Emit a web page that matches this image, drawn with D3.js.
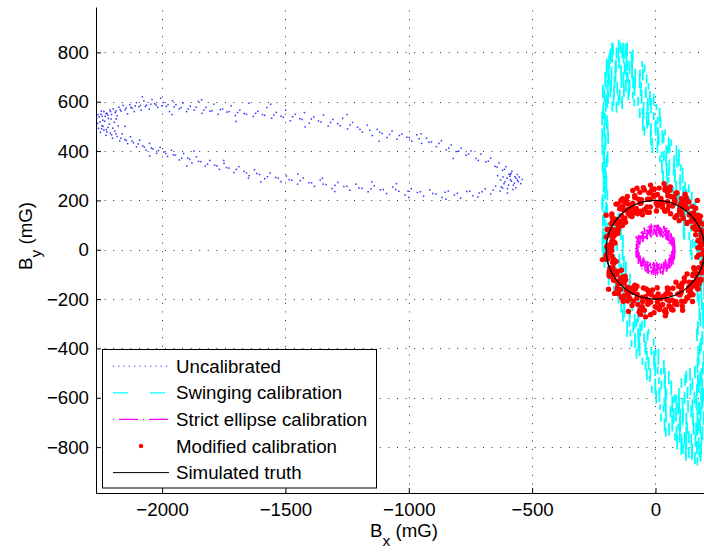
<!DOCTYPE html>
<html>
<head>
<meta charset="utf-8">
<script src="https://cdn.jsdelivr.net/npm/d3@7"></script>
<style>
  body { margin: 0; background: #fff; }
  text { font-family: "Liberation Sans", Arial, Helvetica, sans-serif; }
</style>
</head>
<body>
<svg id="chart" width="704" height="553"></svg>
<script>
// ---- axis ticks ----
const xTicks = [-2000, -1500, -1000, -500, 0];
const yTicks = [-800, -600, -400, -200, 0, 200, 400, 600, 800];
const xDomain = [-2268, 221];
const yDomain = [-986, 984];

// ---- legend entries ----
const seriesNames = ["Uncalibrated", "Swinging calibration", "Strict ellipse calibration",
                     "Modified calibration", "Simulated truth"];

// ---- uncalibrated magnetometer samples (mG) ----
const uncalibrated = [
  [-2262,512],[-2255,538],[-2248,549],[-2240,525],[-2236,560],[-2230,541],[-2224,553],[-2218,532],[-2212,566],[-2205,548],
  [-2198,571],[-2190,556],[-2182,543],[-2175,578],[-2166,562],[-2158,585],[-2150,567],[-2140,551],[-2131,588],[-2122,574],
  [-2113,560],[-2104,596],[-2094,579],[-2085,566],[-2074,603],[-2063,586],[-2052,570],[-2041,609],[-2030,592],[-2018,577],
  [-2006,614],[-1995,597],[-1983,581],[-1970,560],[-1958,604],[-1944,588],[-1930,571],[-1915,595],[-1901,560],[-1886,582],
  [-1870,566],[-1853,601],[-1838,553],[-1822,577],[-1806,562],[-1790,590],[-1773,549],[-1755,571],[-1738,558],[-1720,583],
  [-1703,544],[-1685,566],[-1667,552],[-1648,594],[-1630,540],[-1612,561],[-1593,548],[-1575,576],[-1556,533],[-1537,557],
  [-1518,541],[-1499,566],[-1480,523],[-1461,549],[-1442,531],[-1423,556],[-1404,513],[-1385,538],[-1366,522],[-1346,546],
  [-1327,501],[-1308,528],[-1288,511],[-1268,532],[-1248,490],[-1228,516],[-1208,497],[-1188,477],[-1168,505],[-1148,463],
  [-1128,488],[-1108,472],[-1088,455],[-1068,481],[-1048,448],[-1028,469],[-1008,456],[-988,440],[-968,466],[-948,431],
  [-928,452],[-908,437],[-888,418],[-868,442],[-848,405],[-828,425],[-808,398],[-788,412],[-768,383],[-748,401],
  [-728,370],[-708,388],[-688,356],[-668,371],[-650,338],[-634,352],[-620,322],[-606,337],[-594,306],[-582,318],
  [-570,296],[-560,305],
  [-2258,492],[-2250,476],[-2244,503],[-2236,485],[-2228,464],[-2219,496],[-2210,473],[-2201,452],[-2192,481],[-2182,459],
  [-2172,441],[-2162,470],[-2151,447],[-2140,430],[-2128,458],[-2116,434],[-2104,417],[-2091,444],[-2078,421],[-2065,404],
  [-2051,431],[-2037,409],[-2022,391],[-2008,415],[-1993,396],[-1978,378],[-1962,403],[-1946,383],[-1930,364],[-1913,390],
  [-1896,371],[-1879,352],[-1861,377],[-1843,357],[-1825,339],[-1806,362],[-1787,343],[-1768,326],[-1749,350],[-1729,331],
  [-1709,313],[-1689,337],[-1668,318],[-1647,300],[-1626,324],[-1605,305],[-1584,288],[-1562,311],[-1540,293],[-1518,276],
  [-1496,299],[-1474,282],[-1451,266],[-1428,291],[-1405,272],[-1382,257],[-1359,283],[-1335,264],[-1311,248],[-1287,273],
  [-1263,256],[-1239,241],[-1215,266],[-1190,249],[-1165,235],[-1140,259],[-1115,243],[-1090,228],[-1065,254],[-1040,237],
  [-1015,222],[-990,248],[-965,232],[-940,217],[-915,243],[-890,226],[-865,212],[-840,238],[-815,222],[-790,210],
  [-765,236],[-740,219],[-715,230],[-690,247],[-668,226],[-648,258],[-630,238],[-614,268],[-600,248],[-588,283],
  [-576,262],[-566,290],[-556,276],
  [-2266,530],[-2260,548],[-2252,518],[-2246,562],[-2240,500],[-2233,521],[-2226,487],[-2220,546],[-2214,509],[-2207,530],
  [-2200,493],[-2194,517],[-2186,530],[-2178,502],
  [-640,300],[-628,283],[-618,295],[-610,276],[-602,290],[-596,262],[-590,298],[-584,278],[-578,244],[-572,270],
  [-566,251],[-560,282],[-552,295],[-546,268],[-540,285],[-600,230],[-620,250],[-586,310],
  [-2243,541],[-2227,552],[-2209,560],[-2187,563],[-2170,568],[-2146,574],[-2127,577],[-2109,583],[-2088,585],[-2068,581],
  [-2046,590],[-2024,586],[-2001,583],[-1976,588],[-1951,579],[-1923,576],[-1894,571],[-1862,578],[-1830,566],[-1798,563],
  [-1764,568],[-1729,560],[-1694,556],[-1658,549],[-1621,553],[-1584,545],[-1547,546],[-1509,537],[-1471,539],[-1433,528],
  [-1395,530],[-1356,518],[-1317,516],[-1278,503],[-1238,506],[-1198,488],[-1158,484],[-1118,477],[-1078,467],[-1038,463],
  [-998,455],[-958,450],[-918,436],[-878,431],[-838,412],[-798,400],[-758,388],[-718,362],[-678,359],[-642,335],
  [-612,326],[-588,305],
  [-2245,490],[-2224,478],[-2205,466],[-2187,470],[-2167,452],[-2145,443],[-2122,441],[-2097,429],[-2072,416],[-2044,412],
  [-2015,402],[-1985,390],[-1954,385],[-1921,371],[-1888,366],[-1852,358],[-1816,347],[-1778,340],[-1739,333],[-1699,326],
  [-1658,311],[-1616,309],[-1573,296],[-1529,290],[-1485,284],[-1440,280],[-1394,271],[-1347,266],[-1299,261],[-1251,257],
  [-1202,250],[-1153,247],[-1103,244],[-1053,244],[-1003,238],[-953,235],[-903,228],[-853,233],[-803,229],[-753,237],
  [-703,235],[-658,242],[-625,255],
  [-2080,620],[-1960,548],[-1840,608],[-1700,520],[-1560,590],[-1420,498],[-1250,548],[-1120,440],[-950,470],[-820,370],
  [-2150,500],[-2050,380],[-1900,340],[-1750,362],[-1600,275],[-1450,307],[-1300,236],[-1150,275],[-1000,212],[-850,205],
  [-720,214],[-1350,290],[-1050,268],[-1650,290],[-1870,400]
];

// ---- swinging calibration: dash segments [x, yTop, yBottom] (mG) ----
const swingLeftSide = [
  [-205,20,-30],[-198,55,5],[-212,90,38],[-202,120,60],[-209,160,110],[-196,185,140],[-214,225,170],[-204,260,205],
  [-199,300,240],[-211,330,285],[-206,372,315],[-194,400,352],[-215,440,385],[-203,470,420],[-208,512,455],[-197,545,490],
  [-212,580,530],[-201,615,560],[-207,650,600],[-193,690,632],[-204,720,665],[-198,760,700],[-188,790,735],[-210,395,345],
  [-200,195,150],[-216,560,505],[-192,480,430],[-206,300,250],[-213,140,95],[-195,620,575],[-203,340,300],[-209,70,25],
  [-150,150,100],[-140,90,40],[-165,130,85],[-132,60,10],
  [-200,40,-5],[-214,75,30],[-193,110,70],[-207,145,95],[-202,178,130],[-216,210,160],[-195,245,200],[-210,282,232],
  [-201,318,268],[-214,355,310],[-197,385,335],[-208,425,370],[-203,455,405],[-216,492,440],[-194,520,470],[-205,555,505],
  [-211,595,545],[-199,632,585],[-213,668,615],[-202,700,650],[-191,740,690],[-197,775,720],[-183,815,765],[-176,840,795]
];
const swingUpperBand = [
  [-149,852,808],[-120,832,804],[-122,836,776],[-92,812,776],[-129,808,756],[-92,782,758],[-95,791,725],[-114,766,726],
  [-44,750,718],[-95,750,694],[-51,734,686],[-112,713,683],[-64,717,655],[-83,693,655],[-28,675,649],[-60,677,623],
  [-39,660,616],[-92,640,612],[-22,644,584],[-70,620,584],[-31,616,564],[4,590,566],[-48,599,533],[-64,574,534],
  [-7,558,526],[-28,558,502],[20,542,494],[-34,521,491],[1,525,463],[-45,501,463],[-20,483,457],[28,485,431],
  [13,468,424],[64,448,420],[-13,452,392],[57,428,392],[44,424,372],[25,398,374],[95,407,341],[43,382,342],
  [88,366,334],[26,366,310],[74,350,302],[54,329,299],[110,333,271],[78,309,271],[101,291,265],[48,293,239],
  [120,276,232],[72,256,228],[112,260,200],[147,236,200],[96,232,180],[80,206,182],[137,215,149],[118,190,150],
  [164,174,142],[109,174,118],[141,158,110],[94,137,107],[116,141,79],[163,117,79],[146,99,73],[196,101,47],
  [117,84,40],[186,64,36],[171,68,8],[151,44,8],[200,40,-12],[168,14,-10],[190,23,-43],[147,-2,-42],[194,-18,-50],
  [-131,840,808],[-115,840,784],[-135,824,776],[-97,803,773],[-117,807,745],[-95,783,745],[-54,765,739],[-105,767,713],
  [-120,750,706],[-63,730,702],[-82,734,674],[-36,710,674],[-91,706,654],[-59,680,656],[-107,689,623],[-85,664,624],
  [-40,648,616],[-56,648,592],[-7,632,584],[-86,611,581],[-18,615,553],[-32,591,553],[-53,573,547],[17,575,521],
  [-35,558,514],[9,538,510],[-51,542,482],[0,518,482],[-18,514,462],[39,488,464],[10,497,431],[33,472,432],
  [-18,456,424],[54,456,400],[8,440,392],[49,419,389],[85,423,361],[34,399,361],[18,381,355],[76,383,329],
  [56,366,322],[102,346,318],[46,350,290],[79,326,290],[31,322,270],[53,296,272],[100,305,239],[84,280,240],
  [135,264,232],[56,264,208],[125,248,200],[111,227,197],[91,231,169],[161,207,169],[109,189,163],[154,191,137],
  [92,174,130],[141,154,126],[121,158,98],[177,134,98],[145,130,78],[167,104,80],[114,113,47],[185,88,48],
  [137,72,40],[177,72,16],[192,56,8],[160,35,5],[143,39,-23],[180,15,-23]
];
const swingUpperTip = [
  [-185,800,752],[-172,835,790],[-160,770,722],[-178,742,690],[-150,812,768],[-166,705,655],[-140,748,700],[-183,670,618],
  [-155,680,632],[-130,720,668],[-170,630,585],[-145,650,600],[-120,690,640],[-188,715,668],[-158,600,556],[-135,622,570],
  [-110,650,605],[-163,760,715],
  [-190,760,712],[-176,805,758],[-162,728,680],[-148,782,735],[-138,705,655],[-125,760,712],[-180,690,640],[-168,660,612],
  [-150,630,585],[-128,670,620],[-115,720,675],[-105,690,645],[-142,840,800],[-158,820,775],[-192,640,592],[-175,600,560]
];
const swingRightSide = [
  [192,120,70],[183,60,10],[198,20,-35],[188,-20,-75],[179,-60,-110],[195,-95,-150],[185,-140,-195],[176,-180,-230],
  [193,-215,-270],[182,-255,-310],[172,-290,-345],[190,-330,-385],[180,-375,-425],[196,-410,-465],[170,-440,-500],[186,-480,-540],
  [176,-525,-580],[193,-560,-615],[167,-600,-650],[183,-635,-690],[175,-680,-735],[190,-715,-770],[162,-745,-800],[178,-790,-840],
  [195,-250,-300],[189,-520,-570],[181,-690,-745],[197,-150,-200],[173,-390,-440],[187,-600,-650],
  [186,95,45],[195,40,-10],[178,0,-45],[191,-45,-95],[184,-110,-160],[170,-160,-210],[188,-195,-245],[178,-235,-285],
  [194,-270,-320],[168,-320,-370],[185,-355,-410],[175,-420,-470],[192,-455,-505],[181,-495,-555],[168,-545,-595],[190,-585,-640],
  [176,-615,-665],[195,-655,-710],[170,-700,-755],[186,-740,-790],[168,-775,-830],[183,-815,-860]
];
const swingLowerBand = [
  [123,-818,-842],[148,-785,-851],[112,-786,-826],[125,-778,-810],[88,-754,-810],[105,-746,-794],[79,-743,-773],[125,-715,-777],
  [85,-715,-753],[98,-709,-735],[37,-683,-737],[99,-676,-720],[43,-672,-700],[74,-644,-704],[101,-644,-680],[42,-624,-676],
  [19,-626,-650],[68,-593,-659],[41,-594,-634],[79,-586,-618],[16,-562,-618],[40,-554,-602],[-15,-551,-581],[-1,-523,-585],
  [37,-523,-561],[14,-517,-543],[54,-491,-545],[-35,-484,-528],[23,-480,-508],[-1,-452,-512],[-40,-452,-488],[-4,-432,-484],
  [-29,-434,-458],[12,-401,-467],[-77,-402,-442],[-17,-394,-426],[-40,-370,-426],[-69,-362,-410],[-7,-359,-389],[-67,-331,-393],
  [-32,-331,-369],[-102,-325,-351],[-62,-299,-353],[-90,-292,-336],[-44,-288,-316],[-84,-260,-320],[-71,-260,-296],[-132,-240,-292],
  [-70,-242,-266],[-126,-209,-275],[-94,-210,-250],[-67,-202,-234],[-126,-178,-234],[-150,-170,-218],[-101,-167,-197],[-130,-139,-201],
  [-92,-139,-177],[-157,-133,-159],[-133,-107,-161],[-190,-100,-144],[-176,-96,-124],[-139,-68,-128],[-162,-68,-104],[-120,-48,-100],
  [-207,-50,-74],[-146,-17,-83],[-167,-18,-58],[-195,-10,-42],[-133,14,-42],[-192,22,-26],[-155,25,-5],[-215,53,-9],[-182,53,15],
  [123,-793,-855],[105,-793,-831],[123,-787,-813],[106,-761,-815],[122,-754,-798],[87,-750,-778],[98,-722,-782],[42,-722,-758],
  [55,-702,-754],[93,-704,-728],[68,-671,-737],[110,-672,-712],[22,-664,-696],[83,-640,-696],[61,-632,-680],[33,-629,-659],
  [96,-601,-663],[36,-601,-639],[73,-595,-621],[3,-569,-623],[44,-562,-606],[16,-558,-586],[64,-530,-590],[24,-530,-566],
  [38,-510,-562],[-23,-512,-536],[38,-479,-545],[-21,-480,-520],[9,-472,-504],[34,-448,-504],[-28,-440,-488],[-53,-437,-467],
  [-6,-409,-471],[-35,-409,-447],[1,-403,-429],[-64,-377,-431],[-41,-370,-414],[-97,-366,-394],[-83,-338,-398],[-46,-338,-374],
  [-70,-318,-370],[-28,-320,-344],[-115,-287,-353],[-55,-288,-328],[-77,-280,-312],[-105,-256,-312],[-44,-248,-296],[-104,-245,-275],
  [-69,-217,-279],[-139,-217,-255],[-99,-211,-237],[-127,-185,-239],[-80,-178,-222],[-120,-174,-202],[-106,-146,-206],[-168,-146,-182],
  [-105,-126,-178],[-162,-128,-152],[-130,-95,-161],[-104,-96,-136],[-163,-88,-120],[-187,-64,-120],[-138,-56,-104],[-166,-53,-83],
  [-128,-25,-87],[-192,-25,-63],[-167,-19,-45],[-212,7,-47],[-208,14,-30],[-169,18,-10]
];
const swingLowerTip = [
  [150,-520,-570],[130,-555,-605],[165,-590,-640],[110,-600,-650],[145,-630,-680],[125,-660,-710],[170,-650,-700],[100,-690,-740],
  [155,-700,-750],[135,-735,-785],[175,-760,-810],[148,-790,-845],[160,-820,-868],[118,-740,-790],[185,-560,-610],[95,-560,-610],
  [140,-480,-530],[120,-505,-550],[160,-470,-520],[105,-520,-560],
  [142,-540,-590],[158,-575,-625],[118,-575,-625],[178,-620,-670],[132,-610,-660],[152,-660,-710],[112,-645,-695],[165,-700,-750],
  [128,-700,-748],[145,-745,-795],[185,-780,-830],[170,-840,-875],[135,-800,-845],[92,-620,-668],[125,-490,-540],[172,-505,-555],
  [85,-590,-640],[150,-605,-655]
];

// ---- strict ellipse calibration traces (mG) ----
const strictLoopA = [
  [76,22],[80,-15],[68,41],[72,-4],[74,51],[78,15],[61,68],[65,19],[49,67],[53,25],
  [47,89],[51,46],[40,89],[44,50],[19,90],[23,55],[11,104],[15,60],[3,99],[7,52],
  [-18,106],[-14,55],[-26,98],[-22,58],[-37,85],[-33,42],[-54,75],[-50,48],[-53,79],[-49,29],
  [-69,60],[-65,22],[-78,55],[-74,8],[-75,30],[-71,-11],[-73,14],[-69,-26],[-81,7],[-77,-33],
  [-72,-10],[-68,-54],[-62,-25],[-58,-62],[-62,-29],[-58,-69],[-48,-32],[-44,-76],[-37,-46],[-33,-83],
  [-32,-46],[-28,-91],[-9,-56],[-5,-91],[-4,-52],[0,-106],[5,-50],[9,-95],[25,-61],[29,-102],
  [40,-39],[44,-88],[41,-43],[45,-85],[55,-36],[59,-76],[68,-14],[72,-60],[65,-6],[69,-49],
  [74,7],[78,-36],[76,20]
];
const strictLoopB = [
  [73,30],[77,-12],[76,38],[74,2],[64,58],[68,10],[63,66],[59,24],[55,80],[51,34],
  [40,86],[44,40],[34,97],[30,49],[16,95],[20,52],[9,101],[5,54],[-4,103],[-8,57],
  [-22,96],[-17,50],[-30,92],[-34,47],[-46,90],[-42,43],[-56,73],[-51,31],[-59,70],[-63,21],
  [-71,54],[-67,9],[-70,44],[-74,-4],[-79,28],[-75,-16],[-73,15],[-77,-30],[-75,3],[-70,-43],
  [-66,-10],[-70,-57],[-63,-21],[-59,-68],[-50,-33],[-55,-79],[-45,-41],[-41,-88],[-29,-50],[-34,-95],
  [-21,-52],[-17,-99],[-4,-55],[-9,-101],[9,-56],[5,-100],[16,-52],[21,-97],[35,-48],[30,-94],
  [41,-42],[46,-88],[56,-33],[51,-78],[59,-20],[64,-68],[71,-10],[66,-57],[70,4],[74,-44],
  [78,16],[73,-31]
];

// ---- modified calibration samples (mG) ----
const modified = [
  [198,-42],[183,8],[209,35],[190,-15],[185,47],[205,-5],[192,73],[200,20],[207,30],[178,82],
  [196,-4],[185,60],[184,30],[197,71],[172,8],[200,102],[190,105],[172,37],[185,80],[168,127],
  [164,82],[182,136],[193,68],[174,36],[179,118],[163,61],[152,134],[177,104],[159,87],[173,140],
  [150,175],[164,102],[152,91],[137,141],[163,168],[144,118],[129,168],[149,116],[136,194],[144,141],
  [140,145],[111,197],[129,111],[118,175],[108,140],[121,181],[96,118],[124,212],[105,207],[87,139],
  [100,182],[83,229],[69,177],[87,231],[98,163],[79,131],[77,203],[61,146],[50,219],[75,189],
  [49,163],[63,216],[40,251],[54,178],[37,158],[22,208],[48,235],[29,185],[8,224],[28,172],
  [15,250],[23,197],[15,191],[-14,243],[4,157],[-7,221],[-21,174],[-8,215],[-33,152],[-5,246],
  [-27,230],[-45,162],[-32,205],[-49,252],[-63,188],[-45,242],[-34,174],[-53,142],[-57,203],[-73,146],
  [-84,219],[-59,189],[-83,152],[-69,205],[-92,240],[-78,167],[-95,135],[-110,185],[-84,212],[-103,162],
  [-121,190],[-101,138],[-114,216],[-106,163],[-110,145],[-139,197],[-121,111],[-132,175],[-132,118],[-119,159],
  [-144,96],[-116,190],[-132,163],[-150,95],[-137,138],[-154,185],[-163,112],[-145,166],[-134,98],[-153,66],
  [-149,118],[-165,61],[-176,134],[-151,104],[-168,57],[-154,110],[-177,145],[-163,72],[-170,33],[-185,83],
  [-159,110],[-178,60],[-187,80],[-167,28],[-180,106],[-172,53],[-167,30],[-196,82],[-178,-4],[-189,60],
  [-188,-3],[-175,38],[-200,-25],[-172,69],[-178,30],[-196,-38],[-183,5],[-200,52],[-197,-40],[-179,14],
  [-168,-54],[-187,-86],[-172,-37],[-188,-94],[-199,-21],[-174,-51],[-179,-98],[-165,-45],[-188,-10],[-174,-83],
  [-170,-124],[-185,-74],[-159,-47],[-178,-97],[-176,-75],[-156,-127],[-169,-49],[-161,-102],[-144,-125],[-173,-73],
  [-155,-159],[-166,-95],[-154,-155],[-141,-114],[-166,-177],[-138,-83],[-132,-110],[-150,-178],[-137,-135],[-154,-88],
  [-141,-161],[-123,-107],[-112,-175],[-131,-207],[-115,-152],[-131,-209],[-142,-136],[-117,-166],[-113,-208],[-99,-155],
  [-122,-120],[-108,-193],[-95,-226],[-110,-176],[-84,-149],[-103,-199],[-91,-170],[-71,-222],[-84,-144],[-76,-197],
  [-52,-210],[-81,-158],[-63,-244],[-74,-180],[-54,-231],[-41,-190],[-66,-253],[-38,-159],[-27,-177],[-45,-245],
  [-32,-202],[-49,-155],[-30,-217],[-12,-163],[-1,-231],[-20,-263],[10,-198],[-6,-255],[-17,-182],[8,-212],
  [16,-242],[30,-189],[7,-154],[21,-227],[37,-249],[22,-199],[48,-172],[29,-222],[41,-181],[61,-233],
  [48,-155],[56,-208],[82,-210],[53,-158],[71,-244],[60,-180],[78,-220],[91,-179],[66,-242],[94,-148],
  [105,-154],[87,-222],[100,-179],[83,-132],[99,-183],[117,-129],[128,-197],[109,-229],[135,-152],[119,-209],
  [108,-136],[133,-166],[137,-186],[151,-133],[128,-98],[142,-171],[152,-182],[137,-132],[163,-105],[144,-155],
  [151,-105],[171,-157],[158,-79],[166,-132],[184,-125],[155,-73],[173,-159],[162,-95],[173,-125],[186,-84],
  [161,-147],[189,-53],[190,-52],[172,-120],[185,-77],[168,-30],[175,-73],[193,-19],[204,-87],[185,-119],
  [202,-37],[186,-94],[175,-21],[200,-51],[193,-65],[207,-12],[184,23],[198,-50],
  [-20,262],[35,268],[-75,250],[60,255],[-140,200],[-200,140],[-215,-40],[-190,-160],[-110,-250],[-40,-272],
  [40,-268],[110,-245],[150,-210],[170,200],[120,225],[-160,185],[-60,-262],
  [177,81],[154,150],[161,138],[128,106],[129,199],[98,156],[106,152],[76,215],[79,196],[40,156],
  [38,242],[3,190],[8,178],[-23,232],[-22,205],[-60,156],[-63,233],[-96,173],[-90,152],[-118,198],
  [-113,162],[-138,106],[-135,175],[-164,108],[-151,81],[-173,120],[-161,80],[-188,18],[-178,84],[-198,13],
  [-177,-25],[-190,-2],[-170,-44],[-188,-105],[-169,-40],[-181,-109],[-151,-138],[-156,-97],[-127,-135],[-138,-193],
  [-121,-122],[-126,-187],[-90,-209],[-88,-162],[-55,-193],[-60,-243],[-30,-165],[-31,-221],[8,-235],[11,-179],
  [46,-202],[40,-243],[71,-156],[68,-204],[106,-209],[106,-145],[137,-159],[128,-193],[153,-98],[146,-139],
  [177,-138],
  [166,124],[158,85],[113,127],[104,189],[59,241],[49,195],[-3,221],[-25,152],[-79,161],[-92,189],
  [-133,207],[-124,128],[-162,124],[-164,27],[-194,12],[-179,12],[-190,1],[-158,-87],[-162,-95],[-130,-188],
  [-137,-194],[-92,-172],[-75,-148],[-19,-212],[-3,-192],[43,-255],[55,-228],[104,-172],[117,-114],[164,-145],
  [166,-95]
];

// ---- simulated truth: field magnitude (mG) ----
const truthRadius = 200;

// ---- drawing ----
const svg = d3.select("#chart");
svg.append("rect").attr("width", 704).attr("height", 553).attr("fill", "#fff");

const x = d3.scaleLinear().domain(xDomain).range([96, 710]);
const y = d3.scaleLinear().domain(yDomain).range([493, 7]);
const [x0, x1] = x.range();
const [y0, y1] = y.range();

svg.append("defs").append("clipPath").attr("id", "plotClip")
  .append("rect").attr("x", x0).attr("y", y1).attr("width", x1 - x0).attr("height", y0 - y1);

// dotted grid
const grid = svg.append("g").attr("stroke", "#333").attr("stroke-width", 1)
  .attr("stroke-dasharray", "1,7.6");
grid.selectAll(".gx").data(xTicks).join("line")
  .attr("x1", d => Math.round(x(d)) + 0.5).attr("x2", d => Math.round(x(d)) + 0.5)
  .attr("y1", y0).attr("y2", y1);
grid.selectAll(".gy").data(yTicks).join("line")
  .attr("y1", d => Math.round(y(d)) + 0.5).attr("y2", d => Math.round(y(d)) + 0.5)
  .attr("x1", x0).attr("x2", x1);

const plot = svg.append("g").attr("clip-path", "url(#plotClip)");
const line = d3.line().x(d => x(d[0])).y(d => y(d[1]));

// uncalibrated: dotted trace rendered as fine dots
plot.append("g").attr("fill", "#0000ff").attr("fill-opacity", 0.8)
  .selectAll("rect").data(uncalibrated).join("rect")
  .attr("x", d => x(d[0]) - 0.75).attr("y", d => y(d[1]) - 0.75)
  .attr("width", 1.5).attr("height", 1.5);

// swinging calibration: dashes of the noisy trace
const swingDashes = [].concat(swingLeftSide, swingUpperBand, swingUpperTip, swingRightSide,
                              swingLowerBand, swingLowerTip);
plot.append("g").attr("stroke", "#00ffff").attr("stroke-width", 1.8).attr("stroke-linecap", "butt")
  .selectAll("line").data(swingDashes).join("line")
  .attr("x1", d => x(d[0])).attr("x2", d => x(d[0]))
  .attr("y1", d => y(d[1])).attr("y2", d => y(d[2]));

// strict ellipse calibration
plot.append("g").attr("fill", "none").attr("stroke", "#ff00ff").attr("stroke-width", 1.5)
  .attr("stroke-dasharray", "10,2,1.5,2")
  .selectAll("path").data([strictLoopA, strictLoopB])
  .join("path").attr("d", line);

// modified calibration
plot.append("g").attr("fill", "#ff0000")
  .selectAll("circle").data(modified).join("circle")
  .attr("cx", d => x(d[0])).attr("cy", d => y(d[1])).attr("r", 2.7);

// simulated truth
plot.append("ellipse")
  .attr("cx", x(0)).attr("cy", y(0))
  .attr("rx", x(truthRadius) - x(0)).attr("ry", y(0) - y(truthRadius))
  .attr("fill", "none").attr("stroke", "#000").attr("stroke-width", 1.3);

// axes
const fontSize = 18.7;
const xAxis = svg.append("g").attr("transform", `translate(0,${y0})`)
  .call(d3.axisBottom(x).tickValues(xTicks).tickSizeInner(-5).tickSizeOuter(0)
        .tickPadding(10.2).tickFormat(d3.format("d")));
const yAxis = svg.append("g").attr("transform", `translate(${x0},0)`)
  .call(d3.axisLeft(y).tickValues(yTicks).tickSizeInner(-5).tickSizeOuter(0)
        .tickPadding(7).tickFormat(d3.format("d")));
[xAxis, yAxis].forEach(a => {
  a.attr("font-size", fontSize).attr("font-family", '"Liberation Sans", Arial, sans-serif');
  a.selectAll(".domain").attr("stroke", "#000").attr("stroke-width", 1);
  a.selectAll(".tick line").attr("stroke", "#000");
  a.selectAll(".tick text").attr("fill", "#000");
});

// axis labels with subscripts
const xl = svg.append("text").attr("x", 404).attr("y", 537)
  .attr("text-anchor", "middle").attr("font-size", fontSize).attr("fill", "#000");
xl.append("tspan").text("B");
xl.append("tspan").attr("font-size", 15.5).attr("dy", 9).text("x");
xl.append("tspan").attr("dy", -9).text(" (mG)");

const yl = svg.append("text").attr("transform", "translate(32,236) rotate(-90)")
  .attr("text-anchor", "middle").attr("font-size", fontSize).attr("fill", "#000");
yl.append("tspan").text("B");
yl.append("tspan").attr("font-size", 15.5).attr("dy", 9).text("y");
yl.append("tspan").attr("dy", -9).text(" (mG)");

// legend
const lg = svg.append("g");
lg.append("rect").attr("x", 102.5).attr("y", 349.5).attr("width", 274).attr("height", 138.5)
  .attr("fill", "#fff").attr("stroke", "#000").attr("stroke-width", 1);
const rowY = i => 372.8 + i * 26.6;
const sx0 = 113, sx1 = 169;
const sampleStyles = [
  { stroke: "#0000ff", dash: "1,4.3", width: 1 },
  { stroke: "#00ffff", dash: "15,22", width: 1.2 },
  { stroke: "#ff00ff", dash: "1,5,19,5", width: 1.2 },
  null,
  { stroke: "#000", dash: null, width: 1 }
];
seriesNames.forEach((name, i) => {
  const cy = rowY(i) - 6.6;
  const st = sampleStyles[i];
  if (st) {
    lg.append("line").attr("x1", sx0).attr("x2", sx1).attr("y1", cy).attr("y2", cy)
      .attr("stroke", st.stroke).attr("stroke-width", st.width)
      .attr("stroke-dasharray", st.dash);
  } else {
    lg.append("circle").attr("cx", (sx0 + sx1) / 2).attr("cy", cy).attr("r", 2.2).attr("fill", "#ff0000");
  }
  lg.append("text").attr("x", 176).attr("y", rowY(i)).attr("font-size", fontSize)
    .attr("fill", "#000").text(name);
});
</script>
</body>
</html>
